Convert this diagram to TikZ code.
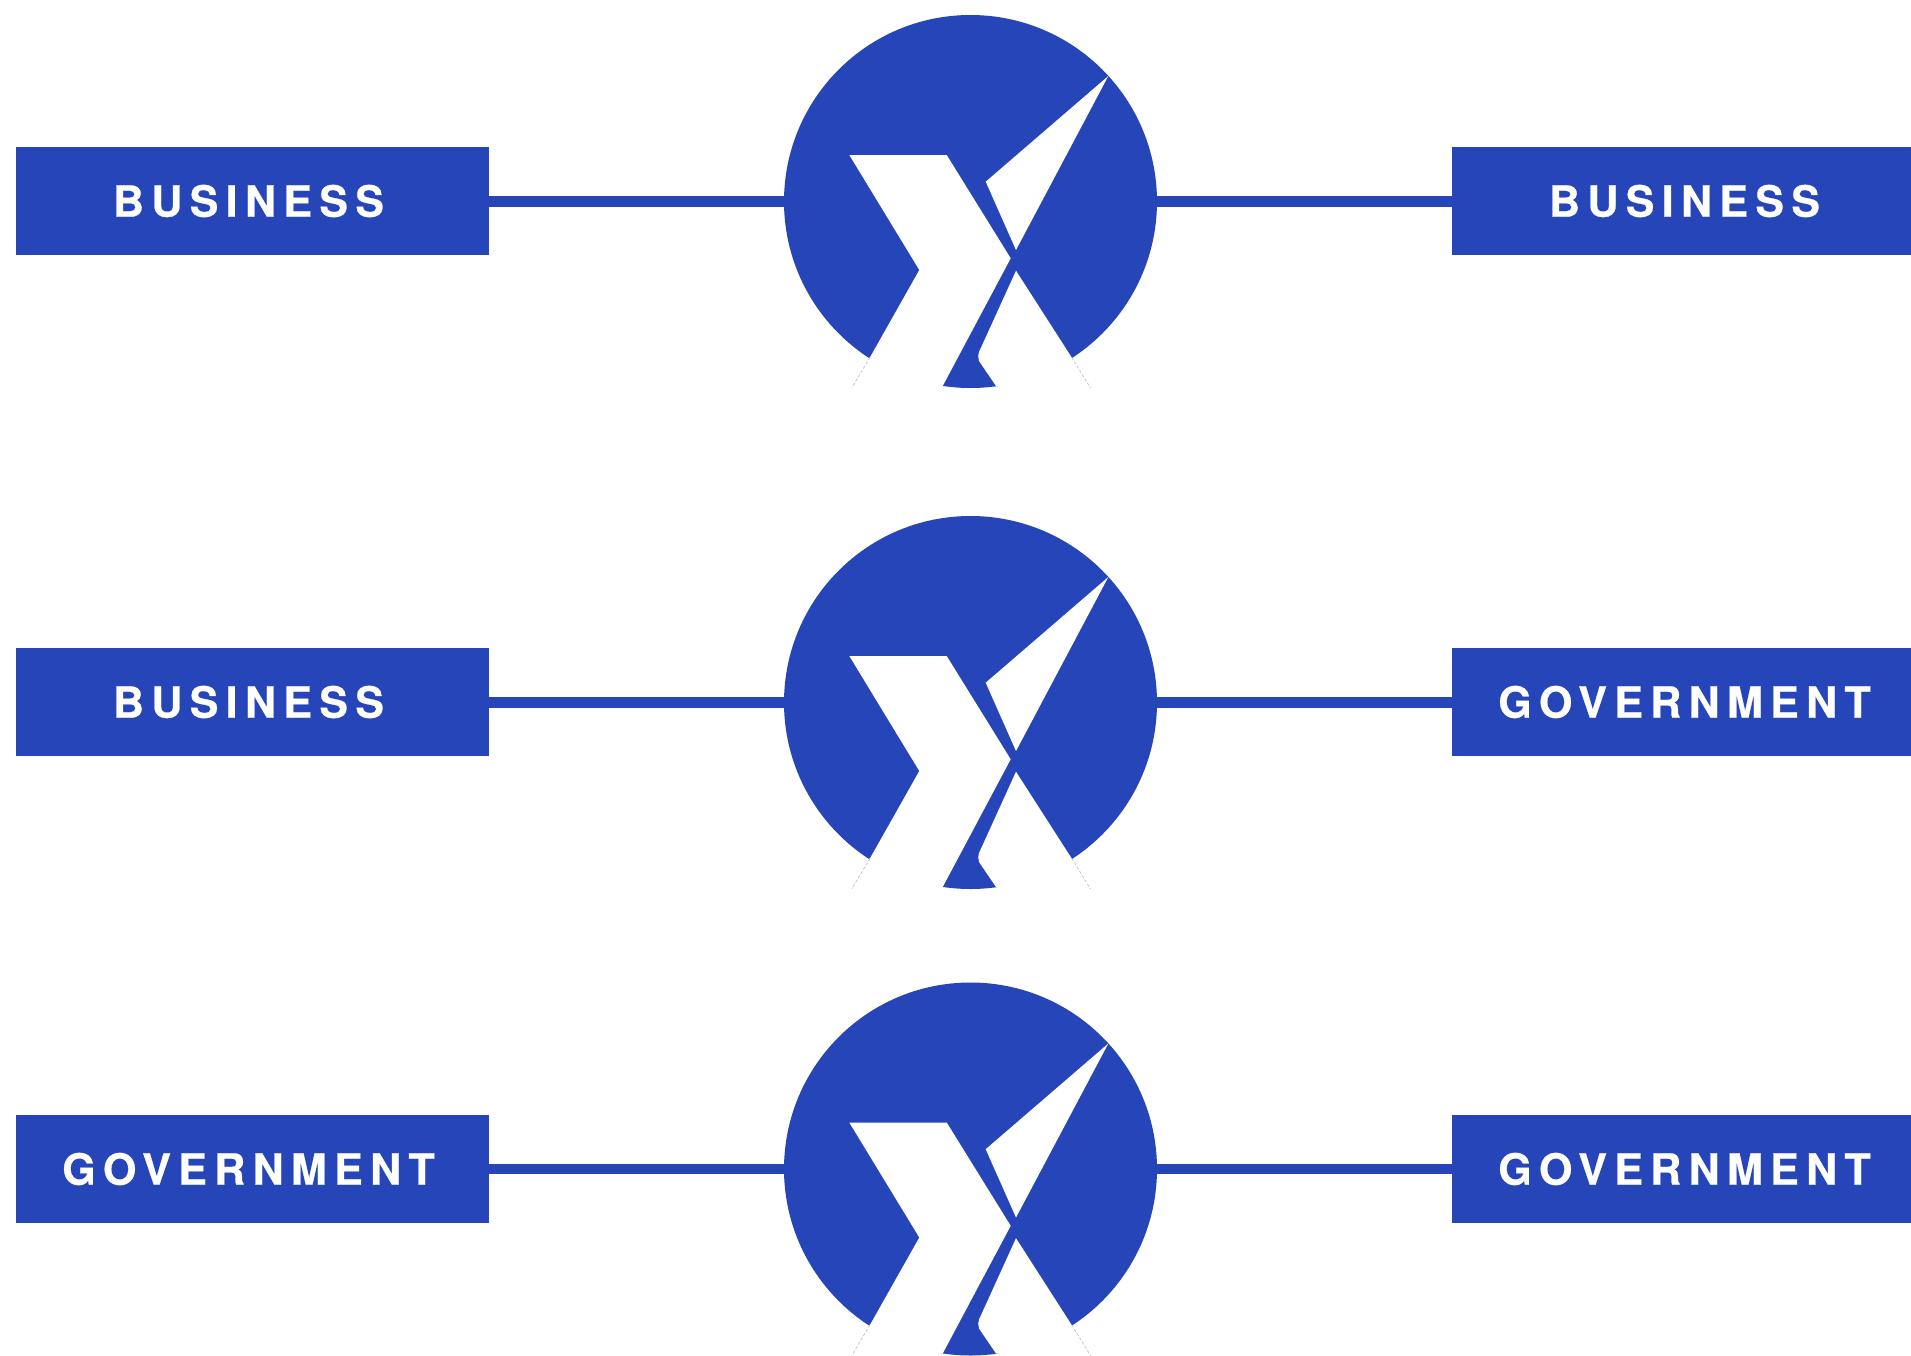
\documentclass[tikz,border=0pt]{standalone}
\usepackage{fontspec}
\setmainfont{Liberation Sans}
\newfontfamily\lblfont{TeX Gyre Heros}[LetterSpace=17,BoldFeatures={FakeBold=0.6}]
\definecolor{brandblue}{HTML}{2545B8}
\tikzset{
  labelbox/.style={rectangle,fill=brandblue,text=white,inner sep=0pt,outer sep=0pt,
    minimum width=473pt,minimum height=108pt,font=\lblfont\bfseries\fontsize{43}{43}\selectfont},
  hub/.style={circle,fill=brandblue,inner sep=0pt,outer sep=0pt,minimum size=373pt},
  link/.style={draw=brandblue,line width=10.5pt},
  cutout/.style={fill=white},
  ghost/.style={draw=black!22,line width=0.8pt,dash pattern=on 3pt off 2pt}
}
\begin{document}
\begin{tikzpicture}[x=1pt,y=-1pt]
\path[use as bounding box] (0,0) rectangle (1911,1355);
\clip (0,0) rectangle (1911,1355);
\foreach \n/\off/\by/\ltxt/\rtxt in {1/0/201/BUSINESS/BUSINESS,2/501/702/BUSINESS/GOVERNMENT,3/967.5/1169/GOVERNMENT/GOVERNMENT}{
  \node[labelbox] (left\n) at (252.5,\by) {\raisebox{-1pt}{\ltxt\kern8pt}};
  \node[labelbox] (right\n) at (1688.5,\by) {\raisebox{-1pt}{\rtxt\kern8pt}};
  \begin{scope}[shift={(0,\off)}]
    \node[hub] (hub\n) at (970.5,201.5) {};
    \draw[link] (left\n.east |- hub\n.west) -- (hub\n.west);
    \draw[link] (hub\n.east) -- (right\n.west |- hub\n.east);
    \fill[cutout] (849.3,155) -- (946.7,155) -- (1010.7,258.3) -- (942.7,386) -- (853.8,386) -- (919.3,270) -- cycle;
    \fill[cutout] (1016,270.7) -- (1090,386) -- (996,386) -- (979,361) -- (978.2,356) -- (979,352) -- cycle;
    \fill[cutout] (1108.3,76) -- (985.7,181.7) -- (1016,250) -- cycle;
    \draw[ghost] (870,357.3) -- (851.7,388);
    \draw[ghost] (1071.7,357.3) -- (1090.5,388);
  \end{scope}
}
\end{tikzpicture}
\end{document}
